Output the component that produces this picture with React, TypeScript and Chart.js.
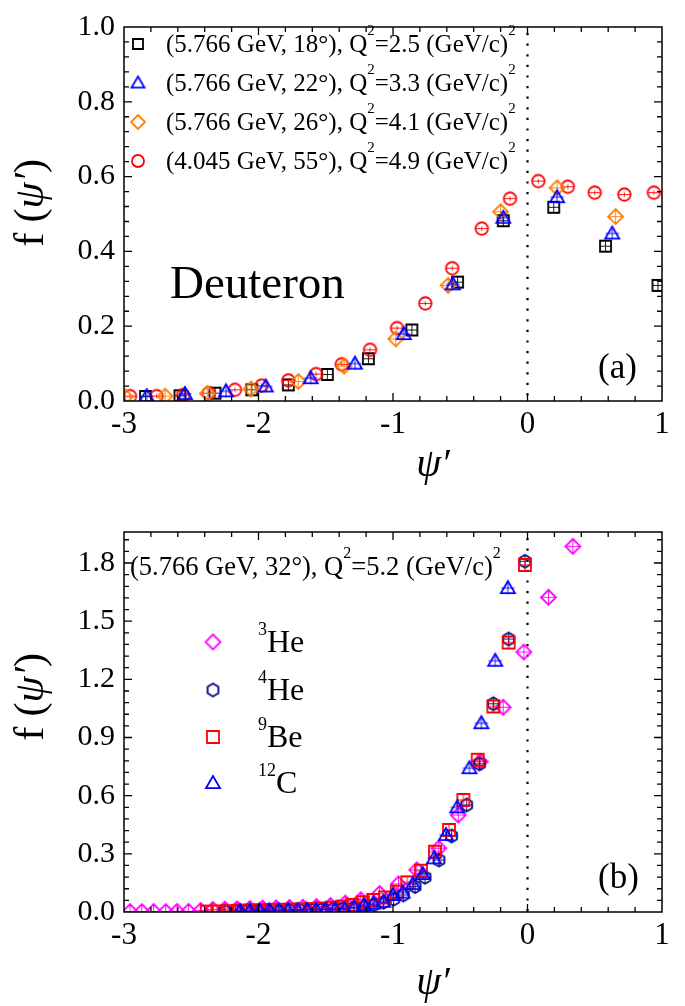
import React, { useEffect, useRef } from 'react';
import { Chart, registerables } from 'chart.js';
Chart.register(...registerables);

const FONT = '"Liberation Serif", "Times New Roman", Times, serif';

// ---------- Panel (a): Deuteron ----------
const xTicks = [-3, -2, -1, 0, 1];
const yTicksA = [0, 0.2, 0.4, 0.6, 0.8, 1.0];
const yTicksB = [0, 0.3, 0.6, 0.9, 1.2, 1.5, 1.8];

const a18X = [-2.84, -2.584, -2.323, -2.05, -1.778, -1.488, -1.183, -0.86, -0.52, -0.18, 0.195, 0.58, 0.97];
const a18Y = [0.012, 0.014, 0.021, 0.030, 0.043, 0.071, 0.113, 0.190, 0.318, 0.482, 0.518, 0.414, 0.309];

const a22X = [-2.831, -2.547, -2.242, -1.946, -1.612, -1.283, -0.92, -0.555, -0.18, 0.22, 0.63];
const a22Y = [0.013, 0.019, 0.026, 0.039, 0.061, 0.100, 0.179, 0.312, 0.490, 0.545, 0.448];

const a26X = [-2.99, -2.695, -2.381, -2.056, -1.704, -1.364, -0.98, -0.59, -0.20, 0.22, 0.655];
const a26Y = [0.011, 0.013, 0.020, 0.032, 0.052, 0.093, 0.166, 0.309, 0.506, 0.570, 0.493];

const a55X = [-2.955, -2.757, -2.56, -2.37, -2.175, -1.977, -1.778, -1.572, -1.381, -1.171, -0.97, -0.76, -0.56, -0.34, -0.13, 0.08, 0.30, 0.50, 0.72, 0.94];
const a55Y = [0.013, 0.013, 0.016, 0.021, 0.030, 0.041, 0.055, 0.072, 0.098, 0.137, 0.195, 0.261, 0.355, 0.461, 0.541, 0.588, 0.573, 0.557, 0.552, 0.557];

const legendA = [
  '(5.766 GeV, 18°), Q^{2}=2.5 (GeV/c)^{2}',
  '(5.766 GeV, 22°), Q^{2}=3.3 (GeV/c)^{2}',
  '(5.766 GeV, 26°), Q^{2}=4.1 (GeV/c)^{2}',
  '(4.045 GeV, 55°), Q^{2}=4.9 (GeV/c)^{2}',
];

// ---------- Panel (b): nuclei ----------
const he3X = [-2.955, -2.868, -2.78, -2.69, -2.606, -2.52, -2.43, -2.34, -2.25, -2.16, -2.065, -1.97, -1.87, -1.77, -1.67, -1.57, -1.465, -1.355, -1.24, -1.10, -0.96, -0.823, -0.66, -0.515, -0.352, -0.181, -0.027, 0.156, 0.337];
const he3Y = [0.002, 0.002, 0.002, 0.002, 0.003, 0.003, 0.008, 0.013, 0.015, 0.016, 0.018, 0.020, 0.021, 0.023, 0.025, 0.028, 0.033, 0.046, 0.063, 0.095, 0.145, 0.217, 0.329, 0.500, 0.776, 1.056, 1.341, 1.623, 1.886];

const he4X = [-2.25, -2.17, -2.09, -2.01, -1.93, -1.85, -1.77, -1.69, -1.61, -1.53, -1.45, -1.37, -1.29, -1.21, -1.14, -1.07, -0.995, -0.923, -0.836, -0.762, -0.658, -0.564, -0.452, -0.356, -0.254, -0.14, -0.019];
const he4Y = [0.004, 0.005, 0.005, 0.006, 0.007, 0.008, 0.009, 0.010, 0.011, 0.013, 0.015, 0.018, 0.022, 0.028, 0.037, 0.050, 0.066, 0.088, 0.131, 0.179, 0.268, 0.392, 0.552, 0.764, 1.074, 1.408, 1.809];

const be9X = [-2.385, -2.306, -2.229, -2.151, -2.074, -1.997, -1.92, -1.842, -1.765, -1.688, -1.61, -1.533, -1.456, -1.378, -1.301, -1.224, -1.147, -1.06, -0.972, -0.894, -0.792, -0.688, -0.584, -0.477, -0.37, -0.254, -0.14, -0.019];
const be9Y = [0.002, 0.003, 0.004, 0.006, 0.008, 0.009, 0.010, 0.011, 0.012, 0.013, 0.015, 0.018, 0.022, 0.028, 0.037, 0.050, 0.062, 0.075, 0.105, 0.153, 0.213, 0.311, 0.423, 0.578, 0.785, 1.060, 1.390, 1.790];

const c12X = [-2.138, -2.065, -1.993, -1.92, -1.85, -1.78, -1.71, -1.64, -1.57, -1.50, -1.43, -1.36, -1.288, -1.216, -1.147, -1.072, -1.0, -0.928, -0.853, -0.779, -0.695, -0.606, -0.522, -0.432, -0.343, -0.24, -0.146];
const c12Y = [0.006, 0.007, 0.008, 0.009, 0.009, 0.010, 0.010, 0.011, 0.011, 0.012, 0.013, 0.015, 0.022, 0.036, 0.044, 0.053, 0.088, 0.100, 0.145, 0.196, 0.277, 0.398, 0.540, 0.742, 0.974, 1.296, 1.671];

const legendB = ['^{3}He', '^{4}He', '^{9}Be', '^{12}C'];
const titleB = '(5.766 GeV, 32°), Q^{2}=5.2 (GeV/c)^{2}';

// ---------- helpers ----------
type Shape = 'square' | 'circle' | 'triangle' | 'diamond' | 'hexagon';

function shapePath(ctx: CanvasRenderingContext2D, shape: Shape, cx: number, cy: number, size: number) {
  const r = size / 2;
  ctx.beginPath();
  if (shape === 'square') {
    ctx.rect(cx - r, cy - r, 2 * r, 2 * r);
  } else if (shape === 'circle') {
    ctx.arc(cx, cy, r, 0, Math.PI * 2);
  } else if (shape === 'triangle') {
    ctx.moveTo(cx, cy - r);
    ctx.lineTo(cx + r, cy + r * 0.72);
    ctx.lineTo(cx - r, cy + r * 0.72);
    ctx.closePath();
  } else if (shape === 'diamond') {
    ctx.moveTo(cx, cy - r);
    ctx.lineTo(cx + r, cy);
    ctx.lineTo(cx, cy + r);
    ctx.lineTo(cx - r, cy);
    ctx.closePath();
  } else if (shape === 'hexagon') {
    for (let i = 0; i < 6; i++) {
      const a = -Math.PI / 2 + (i * Math.PI) / 3;
      const px = cx + r * Math.cos(a) * 0.95;
      const py = cy + r * Math.sin(a);
      if (i === 0) ctx.moveTo(px, py);
      else ctx.lineTo(px, py);
    }
    ctx.closePath();
  }
}

function makeMarker(shape: Shape, color: string, size: number, bars: boolean): HTMLCanvasElement {
  const s = Math.ceil(size + 6);
  const c = document.createElement('canvas');
  c.width = s;
  c.height = s;
  const ctx = c.getContext('2d')!;
  const cx = s / 2;
  const cy = s / 2;
  const r = size / 2;
  ctx.strokeStyle = color;
  ctx.lineWidth = 1.8;
  shapePath(ctx, shape, cx, cy, size);
  ctx.stroke();
  if (bars) {
    ctx.lineWidth = 0.9;
    ctx.beginPath();
    ctx.moveTo(cx - r * 0.95, cy);
    ctx.lineTo(cx + r * 0.95, cy);
    if (shape !== 'circle') {
      ctx.moveTo(cx, cy - r * 0.9);
      ctx.lineTo(cx, cy + r * 0.9);
    } else {
      ctx.moveTo(cx, cy - r * 0.35);
      ctx.lineTo(cx, cy + r * 0.35);
    }
    ctx.stroke();
  }
  return c;
}

function drawRich(ctx: CanvasRenderingContext2D, text: string, x: number, y: number, size: number, supSize: number, rise: number) {
  const parts = text.split(/(\^\{[^}]*\})/);
  let cx = x;
  ctx.textBaseline = 'alphabetic';
  ctx.textAlign = 'left';
  for (const p of parts) {
    if (!p) continue;
    if (p.startsWith('^{')) {
      const t = p.slice(2, -1);
      ctx.font = `${supSize}px ${FONT}`;
      ctx.fillText(t, cx, y - rise);
      cx += ctx.measureText(t).width;
    } else {
      ctx.font = `${size}px ${FONT}`;
      ctx.fillText(p, cx, y);
      cx += ctx.measureText(p).width;
    }
  }
}

function drawYTitle(ctx: CanvasRenderingContext2D, cx: number, cy: number, size: number) {
  const segs = [
    { t: 'f (', f: `${size}px ${FONT}` },
    { t: 'ψ′', f: `italic ${size}px ${FONT}` },
    { t: ')', f: `${size}px ${FONT}` },
  ];
  ctx.save();
  ctx.translate(cx, cy);
  ctx.rotate(-Math.PI / 2);
  let w = 0;
  for (const s of segs) {
    ctx.font = s.f;
    w += ctx.measureText(s.t).width;
  }
  let x = -w / 2;
  ctx.textBaseline = 'alphabetic';
  ctx.textAlign = 'left';
  for (const s of segs) {
    ctx.font = s.f;
    ctx.fillText(s.t, x, size * 0.25);
    x += ctx.measureText(s.t).width;
  }
  ctx.restore();
}

function drawXTitle(ctx: CanvasRenderingContext2D, cx: number, baseline: number, size: number) {
  ctx.save();
  ctx.font = `italic ${size}px ${FONT}`;
  ctx.textAlign = 'center';
  ctx.textBaseline = 'alphabetic';
  ctx.fillText('ψ′', cx, baseline);
  ctx.restore();
}

interface FrameCfg {
  id: string;
  xMinor: number;
  xMajor: number;
  yMinor: number;
  yMajor: number;
  drawText: (ctx: CanvasRenderingContext2D, chart: any) => void;
}

function makeFramePlugin(cfg: FrameCfg) {
  return {
    id: 'frame' + cfg.id,
    beforeDatasetsDraw(chart: any) {
      const ctx: CanvasRenderingContext2D = chart.ctx;
      const { top, bottom } = chart.chartArea;
      const x0 = chart.scales.x.getPixelForValue(0);
      ctx.save();
      ctx.strokeStyle = '#000';
      ctx.lineWidth = 2.2;
      ctx.setLineDash([2.2, 8.4]);
      ctx.beginPath();
      ctx.moveTo(x0, top + 6);
      ctx.lineTo(x0, bottom);
      ctx.stroke();
      ctx.restore();
    },
    afterDraw(chart: any) {
      const ctx: CanvasRenderingContext2D = chart.ctx;
      const { left, right, top, bottom } = chart.chartArea;
      const xs = chart.scales.x;
      const ys = chart.scales.y;
      ctx.save();
      ctx.strokeStyle = '#000';
      ctx.lineWidth = 1.5;
      ctx.strokeRect(left, top, right - left, bottom - top);
      ctx.lineWidth = 1.3;
      ctx.beginPath();
      const isMajor = (v: number, m: number) => Math.abs(v / m - Math.round(v / m)) < 1e-6;
      const nx = Math.round((xs.max - xs.min) / cfg.xMinor);
      for (let i = 1; i < nx; i++) {
        const v = xs.min + i * cfg.xMinor;
        const px = xs.getPixelForValue(v);
        const L = isMajor(v, cfg.xMajor) ? 8 : 5;
        ctx.moveTo(px, bottom);
        ctx.lineTo(px, bottom - L);
        ctx.moveTo(px, top);
        ctx.lineTo(px, top + L);
      }
      const ny = Math.floor((ys.max - ys.min) / cfg.yMinor + 1e-6);
      for (let i = 1; i <= ny; i++) {
        const v = ys.min + i * cfg.yMinor;
        const py = ys.getPixelForValue(v);
        if (py <= top + 0.5) continue;
        const L = isMajor(v, cfg.yMajor) ? 8 : 5;
        ctx.moveTo(left, py);
        ctx.lineTo(left + L, py);
        ctx.moveTo(right, py);
        ctx.lineTo(right - L, py);
      }
      ctx.stroke();
      ctx.fillStyle = '#000';
      cfg.drawText(ctx, chart);
      ctx.restore();
    },
  };
}

function pts(xs: number[], ys: number[]) {
  return xs.map((x, i) => ({ x, y: ys[i] }));
}

function scaleOpts(min: number, max: number, ticks: number[], fit: number, isX: boolean, fmt: (v: number) => string) {
  return {
    type: 'linear' as const,
    min,
    max,
    afterBuildTicks: (s: any) => {
      s.ticks = ticks.map((value) => ({ value }));
    },
    afterFit: (s: any) => {
      if (isX) s.height = fit;
      else s.width = fit;
    },
    grid: { display: false, drawTicks: false },
    border: { display: false },
    ticks: {
      color: '#000',
      font: { family: FONT, size: isX ? 31 : 30 },
      padding: isX ? 5 : 9,
      maxRotation: 0,
      autoSkip: false,
      callback: (v: any) => fmt(Number(v)),
    },
  };
}

export default function App() {
  const refA = useRef<HTMLCanvasElement>(null);
  const refB = useRef<HTMLCanvasElement>(null);

  useEffect(() => {
    // Panel (a)
    const mA = {
      sq: makeMarker('square', '#000000', 11, true),
      tr: makeMarker('triangle', '#0000ff', 14, true),
      di: makeMarker('diamond', '#ff8000', 15, true),
      ci: makeMarker('circle', '#ff0000', 12.5, true),
    };
    const lA = [
      makeMarker('square', '#000000', 10, false),
      makeMarker('triangle', '#0000ff', 13, false),
      makeMarker('diamond', '#ff8000', 14, false),
      makeMarker('circle', '#ff0000', 12, false),
    ];
    const rowsA = [44, 83, 122, 161];

    const pluginA = makeFramePlugin({
      id: 'A',
      xMinor: 0.2,
      xMajor: 1,
      yMinor: 0.04,
      yMajor: 0.2,
      drawText: (ctx) => {
        lA.forEach((m, i) => {
          ctx.drawImage(m, 138 - m.width / 2, rowsA[i] - m.height / 2);
          drawRich(ctx, legendA[i], 166, rowsA[i] + 8, 25, 15, 17);
        });
        ctx.font = `47px ${FONT}`;
        ctx.textAlign = 'left';
        ctx.textBaseline = 'alphabetic';
        ctx.fillText('Deuteron', 170, 298);
        ctx.font = `35px ${FONT}`;
        ctx.fillText('(a)', 598, 378);
        drawYTitle(ctx, 32, 203, 42);
        drawXTitle(ctx, 433, 476, 40);
      },
    });

    const chartA = new Chart(refA.current!, {
      type: 'scatter',
      data: {
        datasets: [
          { label: legendA[0], data: pts(a18X, a18Y), pointStyle: mA.sq as any, pointRadius: 6, order: 3 },
          { label: legendA[1], data: pts(a22X, a22Y), pointStyle: mA.tr as any, pointRadius: 6, order: 0 },
          { label: legendA[2], data: pts(a26X, a26Y), pointStyle: mA.di as any, pointRadius: 6, order: 1 },
          { label: legendA[3], data: pts(a55X, a55Y), pointStyle: mA.ci as any, pointRadius: 6, order: 2 },
        ],
      },
      options: {
        animation: false,
        responsive: false,
        events: [],
        layout: { padding: { top: 20, right: 23, left: 0, bottom: 0 } },
        plugins: { legend: { display: false }, tooltip: { enabled: false } },
        scales: {
          x: scaleOpts(-3, 1, xTicks, 102, true, (v) => String(v)),
          y: scaleOpts(0, 1, yTicksA, 124, false, (v) => v.toFixed(1)),
        },
      },
      plugins: [pluginA],
    });

    // Panel (b)
    const mB = {
      di: makeMarker('diamond', '#ff00ff', 15, true),
      hx: makeMarker('hexagon', '#000080', 13, true),
      sq: makeMarker('square', '#ff0000', 12, true),
      tr: makeMarker('triangle', '#0000ff', 14, true),
    };
    const lB = [
      makeMarker('diamond', '#ff00ff', 15, false),
      makeMarker('hexagon', '#000080', 13, false),
      makeMarker('square', '#ff0000', 12, false),
      makeMarker('triangle', '#0000ff', 14, false),
    ];
    const rowsB = [139, 187, 234, 280];

    const pluginB = makeFramePlugin({
      id: 'B',
      xMinor: 0.2,
      xMajor: 1,
      yMinor: 0.06,
      yMajor: 0.3,
      drawText: (ctx) => {
        drawRich(ctx, titleB, 130, 72, 26.5, 16, 17);
        lB.forEach((m, i) => {
          ctx.drawImage(m, 213 - m.width / 2, rowsB[i] - m.height / 2);
          drawRich(ctx, legendB[i], 258, rowsB[i] + 10, 32, 18, 17);
        });
        ctx.font = `35px ${FONT}`;
        ctx.textAlign = 'left';
        ctx.textBaseline = 'alphabetic';
        ctx.fillText('(b)', 598, 385);
        drawYTitle(ctx, 32, 194, 42);
        drawXTitle(ctx, 433, 491, 40);
      },
    });

    const chartB = new Chart(refB.current!, {
      type: 'scatter',
      data: {
        datasets: [
          { label: '3He', data: pts(he3X, he3Y), pointStyle: mB.di as any, pointRadius: 6, order: 3 },
          { label: '4He', data: pts(he4X, he4Y), pointStyle: mB.hx as any, pointRadius: 6, order: 2 },
          { label: '9Be', data: pts(be9X, be9Y), pointStyle: mB.sq as any, pointRadius: 6, order: 1 },
          { label: '12C', data: pts(c12X, c12Y), pointStyle: mB.tr as any, pointRadius: 6, order: 0 },
        ],
      },
      options: {
        animation: false,
        responsive: false,
        events: [],
        layout: { padding: { top: 29, right: 23, left: 0, bottom: 0 } },
        plugins: { legend: { display: false }, tooltip: { enabled: false } },
        scales: {
          x: scaleOpts(-3, 1, xTicks, 94, true, (v) => String(v)),
          y: scaleOpts(0, 1.96, yTicksB, 124, false, (v) => v.toFixed(1)),
        },
      },
      plugins: [pluginB],
    });

    return () => {
      chartA.destroy();
      chartB.destroy();
    };
  }, []);

  return (
    <div style={{ position: 'absolute', left: 0, top: 0, width: 685, height: 1006, background: '#fff' }}>
      <canvas ref={refA} width={685} height={503} style={{ display: 'block', width: 685, height: 503 }} />
      <canvas ref={refB} width={685} height={503} style={{ display: 'block', width: 685, height: 503 }} />
    </div>
  );
}
